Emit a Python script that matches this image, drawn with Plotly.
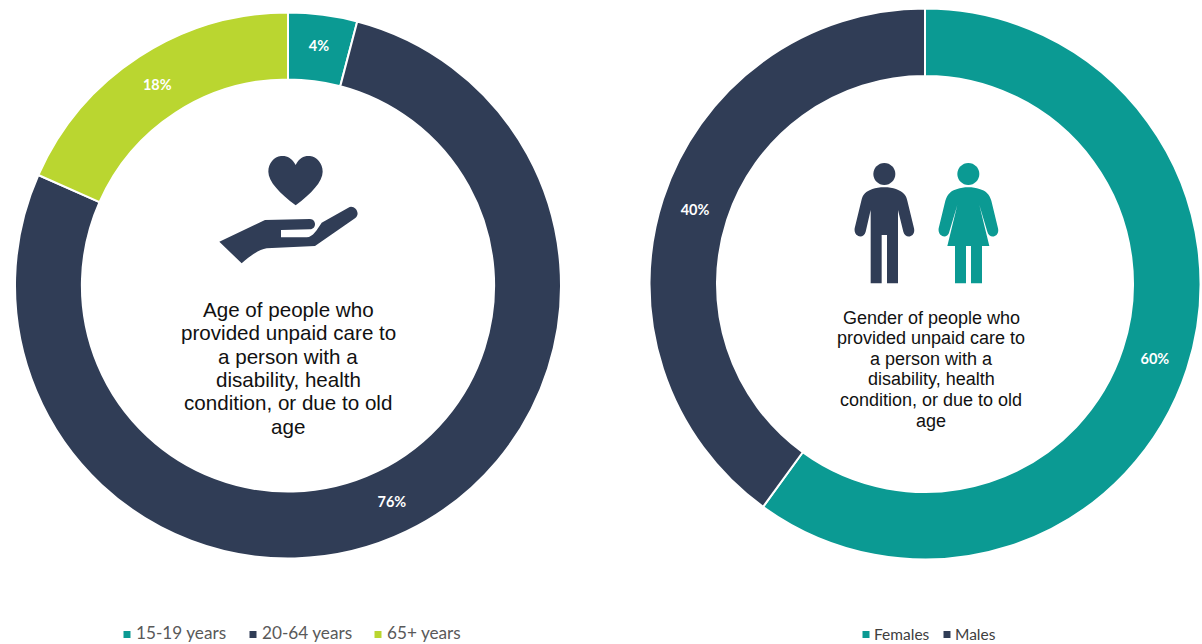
import re
import plotly.graph_objects as go

WIDTH, HEIGHT = 1202, 644

age_labels = ["15-19 years", "20-64 years", "65+ years"]
age_values = [4, 76, 18]
gender_labels = ["Females", "Males"]
gender_values = [60, 40]

TEAL = "#0B9A93"
NAVY = "#303D56"
LIME = "#BAD630"

age_colors = [TEAL, NAVY, LIME]
gender_colors = [TEAL, NAVY]

age_title = ["Age of people who", "provided unpaid care to", "a person with a",
             "disability, health", "condition, or due to old", "age"]
gender_title = ["Gender of people who", "provided unpaid care to", "a person with a",
                "disability, health", "condition, or due to old", "age"]


def px_x(x):
    return x / WIDTH


def px_y(y):
    return 1 - y / HEIGHT


def domain(cx, cy, r):
    return dict(x=[px_x(cx - r), px_x(cx + r)], y=[px_y(cy + r), px_y(cy - r)])


def icon_path(d, ox, oy, scale=1 / 3):
    """Rescale an SVG path drawn on a local grid into paper coordinates."""
    idx = 0

    def repl(match):
        nonlocal idx
        v = float(match.group())
        res = px_x(ox + v * scale) if idx % 2 == 0 else px_y(oy + v * scale)
        idx += 1
        return f"{res:.5f}"

    return re.sub(r"-?\d+\.?\d*", repl, d)


def circle_path(cx, cy, r):
    return (f"M{cx - r},{cy} C{cx - r},{cy - .55 * r} {cx - .55 * r},{cy - r} {cx},{cy - r} "
            f"C{cx + .55 * r},{cy - r} {cx + r},{cy - .55 * r} {cx + r},{cy} "
            f"C{cx + r},{cy + .55 * r} {cx + .55 * r},{cy + r} {cx},{cy + r} "
            f"C{cx - .55 * r},{cy + r} {cx - r},{cy + .55 * r} {cx - r},{cy} Z")


HEART = ("M287,75 C275,52 258,46 243,48 C222,50 205,70 205,95 C205,125 240,160 287,196 "
         "C334,160 368,125 368,95 C368,70 350,50 330,48 C315,46 298,52 287,75 Z")
HAND = ("M58,305 L195,240 L330,237 C350,238 350,268 330,268 L243,270 L243,292 L320,292 "
        "C340,290 350,270 365,248 L445,203 C462,192 485,220 465,235 L345,318 "
        "L200,325 C180,330 165,335 125,370 Z")
MAN = ("M133,112 C105,112 85,120 75,130 C68,136 66,145 64,152 L44,235 C40,262 72,268 77,245 "
       "L92,180 L92,400 L125,400 L125,255 L141,255 L141,400 L174,400 L174,180 L190,245 "
       "C195,268 228,262 222,235 L202,152 C200,145 198,136 190,130 C180,120 160,112 133,112 Z")
WOMAN = ("M385,112 C360,112 340,120 330,128 C322,134 320,142 316,152 L296,235 "
         "C292,262 324,268 328,245 L352,165 L322,288 L345,288 L345,400 L378,400 L378,288 "
         "L393,288 L393,400 L426,400 L426,288 L448,288 L418,165 L442,245 "
         "C447,268 480,262 474,235 L454,152 C450,142 448,134 440,128 C430,120 410,112 385,112 Z")


def filled(path, color):
    return dict(type="path", xref="paper", yref="paper", path=path,
                fillcolor=color, line=dict(width=0), layer="above")


def legend_key(x, y, color):
    half = 3.5
    return dict(type="rect", xref="paper", yref="paper",
                x0=px_x(x - half), x1=px_x(x + half),
                y0=px_y(y + half), y1=px_y(y - half),
                fillcolor=color, line=dict(width=0))


def legend_text(x, y, text, size, color):
    return dict(xref="paper", yref="paper", x=px_x(x), y=px_y(y), text=text,
                showarrow=False, xanchor="left", yanchor="middle",
                font=dict(family="Lato, Carlito, sans-serif", size=size, color=color))


def title_lines(x, first_y, step, lines, size):
    # One annotation per line so the leading stays tighter than the default
    return [dict(xref="paper", yref="paper", x=px_x(x), y=px_y(first_y + i * step), text=line,
                 showarrow=False, xanchor="center", yanchor="middle", align="center",
                 font=dict(family="Liberation Sans, Arial, sans-serif", size=size, color="#111111"))
            for i, line in enumerate(lines)]


def donut(labels, values, colors, dom):
    return go.Pie(
        labels=labels, values=values, domain=dom, hole=0.755, sort=False,
        direction="clockwise", rotation=0, showlegend=False,
        marker=dict(colors=colors, line=dict(color="white", width=2)),
        texttemplate="%{value}%", textposition="inside",
        insidetextorientation="horizontal",
        textfont=dict(family="Lato, Carlito, sans-serif", size=14.5, color="white", weight="bold"),
    )


fig = go.Figure([
    donut(age_labels, age_values, age_colors, domain(288, 285.5, 273)),
    donut(gender_labels, gender_values, gender_colors, domain(925, 284, 275.5)),
])

shapes = [
    filled(icon_path(HEART, 200, 140), NAVY),
    filled(icon_path(HAND, 200, 140), NAVY),
    filled(icon_path(circle_path(133, 72, 33), 840, 150), NAVY),
    filled(icon_path(MAN, 840, 150), NAVY),
    filled(icon_path(circle_path(385, 72, 33), 840, 150), TEAL),
    filled(icon_path(WOMAN, 840, 150), TEAL),
]
annotations = (title_lines(288, 309.5, 23.3, age_title, 20.6)
               + title_lines(931, 317.5, 20.6, gender_title, 18))

# Hand-placed legends so each key sits tight against its label
for key_x, label, color in zip([127, 253, 378], age_labels, age_colors):
    shapes.append(legend_key(key_x, 634.5, color))
    annotations.append(legend_text(key_x + 7, 632.5, label, 17.2, "#595959"))
for key_x, label, color in zip([866, 947], gender_labels, gender_colors):
    shapes.append(legend_key(key_x, 634.5, color))
    annotations.append(legend_text(key_x + 6, 633.5, label, 15.5, "#404040"))

fig.update_layout(
    width=WIDTH, height=HEIGHT, margin=dict(l=0, r=0, t=0, b=0),
    paper_bgcolor="white", plot_bgcolor="white",
    shapes=shapes, annotations=annotations,
)

fig.write_html("out.html")
